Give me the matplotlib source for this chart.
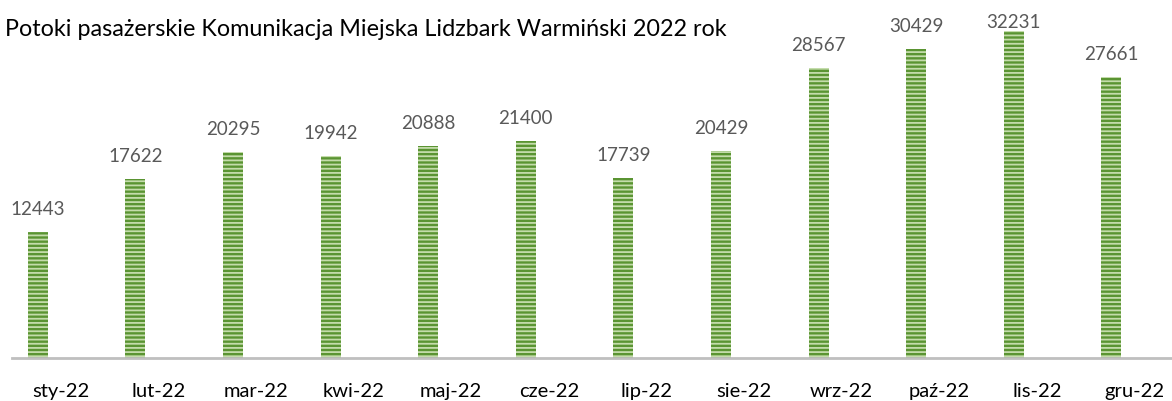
import matplotlib
matplotlib.use("Agg")
import matplotlib.pyplot as plt
import numpy as np

title = "Potoki pasażerskie Komunikacja Miejska Lidzbark Warmiński 2022 rok"
categories = ["sty-22", "lut-22", "mar-22", "kwi-22", "maj-22", "cze-22",
              "lip-22", "sie-22", "wrz-22", "paź-22", "lis-22", "gru-22"]
values = [12443, 17622, 20295, 19942, 20888, 21400,
          17739, 20429, 28567, 30429, 32231, 27661]

W, H = 1172, 401
DPI = 100
plt.rcParams['font.family'] = ['Lato', 'DejaVu Sans']
plt.rcParams['hatch.color'] = '#c4dcab'
plt.rcParams['hatch.linewidth'] = 1.3

fig = plt.figure(figsize=(W / DPI, H / DPI), dpi=DPI)
slot = 97.6  # px per category
scale = 0.01015  # px per unit
left_px, base_px = 12, 358
ax = fig.add_axes([left_px / W, (H - base_px) / H, (W - left_px) / W, base_px / H])

x = np.arange(len(categories))
offset = -23 / slot
ax.bar(x + offset, values, width=20 / slot, color='#5a9432', hatch='----',
       linewidth=0)
gap = 17 / scale
top_limit = (base_px - 28) / scale
for xi, v in zip(x, values):
    ax.text(xi + offset, min(v + gap, top_limit), str(v), ha='center',
            va='baseline', fontsize=13.5, color='#595959')

ax.set_xlim(-0.5, -0.5 + (W - left_px) / slot)
ax.set_ylim(0, base_px / scale)
ax.set_xticks(x)
ax.set_xticklabels(categories, fontsize=14.5, color='black')
ax.tick_params(axis='x', length=0, pad=18)
ax.set_yticks([])
for s in ['top', 'right', 'left']:
    ax.spines[s].set_visible(False)
ax.spines['bottom'].set_color('#bfbfbf')
ax.spines['bottom'].set_linewidth(2)

fig.text(5 / W, 1 - 29 / H, title, ha='left', va='center', fontsize=16.8,
         color='black')

fig.savefig("out.png", dpi=DPI)
